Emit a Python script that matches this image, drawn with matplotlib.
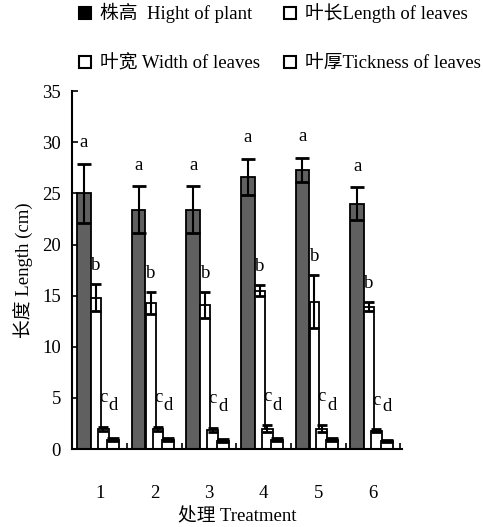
import matplotlib
matplotlib.use("Agg")

import matplotlib.pyplot as plt
from matplotlib.patches import Patch
import numpy as np

plt.rcParams['font.family'] = ['Liberation Serif', 'Noto Sans CJK SC']
plt.rcParams['font.size'] = 13.5

# data
treatments = ["1", "2", "3", "4", "5", "6"]
height_mean = [25.0, 23.4, 23.4, 26.6, 27.3, 24.0]
height_err = [2.9, 2.3, 2.3, 1.8, 1.2, 1.6]
length_mean = [14.8, 14.3, 14.1, 15.5, 14.4, 13.9]
length_err = [1.3, 1.05, 1.25, 0.55, 2.6, 0.45]
width_mean = [2.0, 2.0, 1.9, 2.0, 2.0, 1.8]
width_err = [0.2, 0.2, 0.2, 0.3, 0.3, 0.15]
thick_mean = [0.9, 0.9, 0.8, 0.9, 0.9, 0.8]
thick_err = [0.15, 0.15, 0.15, 0.15, 0.15, 0.1]
letters = ["a", "b", "c", "d"]

legend_labels = ["株高  Hight of plant", "叶长Length of leaves",
                 "叶宽 Width of leaves", "叶厚Tickness of leaves"]

x = np.arange(1, len(treatments) + 1)

fig = plt.figure(figsize=(4.83, 5.27), dpi=100)
ax = fig.add_axes([0.149, 0.148, 0.683, 0.679])

# (mean, err, offset, width, colour, letter gap)
series = [
    (height_mean, height_err, -0.29, 0.25, "#606060", 1.2),
    (length_mean, length_err, -0.07, 0.18, "white", 1.0),
    (width_mean, width_err, 0.065, 0.2, "white", 2.0),
    (thick_mean, thick_err, 0.25, 0.22, "white", 2.4),
]

for i, (m, e, off, w, col, lab_off) in enumerate(series):
    ax.bar(x + off, m, width=w, color=col, edgecolor="black", linewidth=1.3, zorder=2)
    ax.errorbar(x + off, m, yerr=e, fmt="none", ecolor="black", elinewidth=1.5,
                capsize=w * 54.6 * 0.36, capthick=2.0, zorder=3)
    for xi, mi, ei in zip(x, m, e):
        ax.text(xi + off, mi + ei + lab_off, letters[i], ha="center", va="bottom")

ax.set_xlim(0.49, 6.53)
ax.set_ylim(0, 35)
ax.set_yticks(np.arange(0, 36, 5))
ax.set_xticks(x)
ax.set_xticklabels(treatments)
ax.set_xticks(x + 0.5, minor=True)
ax.tick_params(axis="x", which="major", length=0, pad=26)
ax.tick_params(axis="x", which="minor", direction="in", length=4, width=1.2)
ax.tick_params(axis="y", direction="in", length=4, width=1.2, pad=8)
ax.spines["top"].set_visible(False)
ax.spines["right"].set_visible(False)
ax.spines["left"].set_linewidth(1.5)
ax.spines["bottom"].set_linewidth(1.5)

ax.set_xlabel("处理 Treatment", labelpad=4)
ax.set_ylabel("长度 Length (cm)", labelpad=6)

handles = [
    Patch(facecolor="black", edgecolor="black", linewidth=1.5),
    Patch(facecolor="white", edgecolor="black", linewidth=1.5),
    Patch(facecolor="white", edgecolor="black", linewidth=1.5),
    Patch(facecolor="white", edgecolor="black", linewidth=1.5),
]
order = [0, 2, 1, 3]
fig.legend([handles[k] for k in order], [legend_labels[k] for k in order],
           ncol=2, loc="upper left", bbox_to_anchor=(0.145, 1.012), frameon=False,
           handlelength=0.6, handleheight=0.6, handletextpad=0.5,
           columnspacing=1.3, labelspacing=1.7, borderaxespad=0.1)

plt.savefig("out.png", dpi=100)
